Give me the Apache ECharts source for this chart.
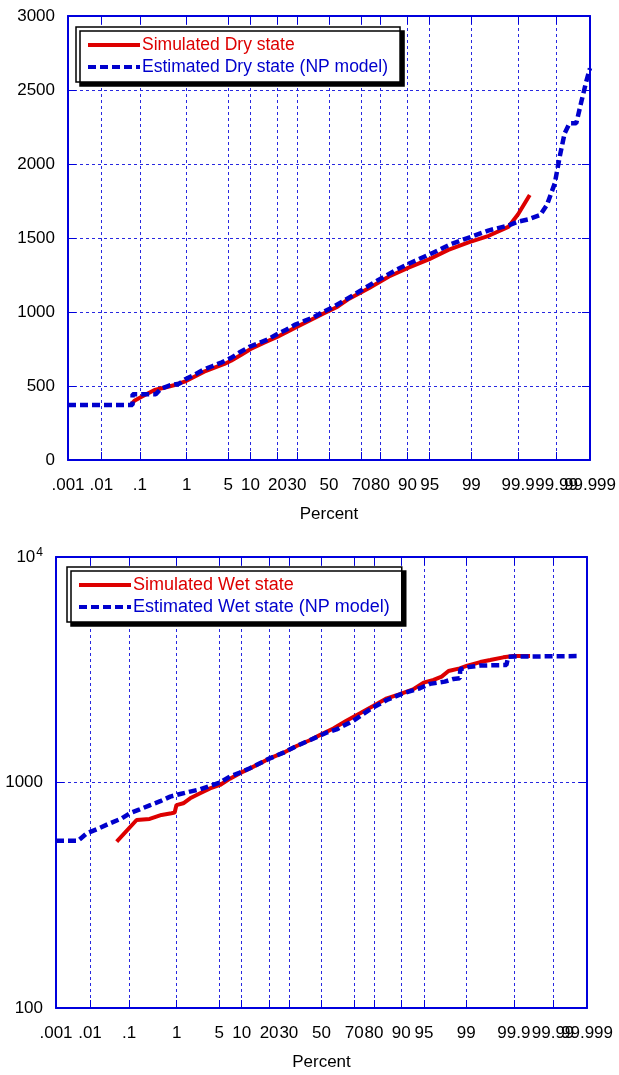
<!DOCTYPE html>
<html>
<head>
<meta charset="utf-8" />
<title>Dry / Wet state probability plots</title>
<script src="https://cdn.jsdelivr.net/npm/echarts@6/dist/echarts.min.js"></script>
<style>html,body{margin:0;padding:0;background:#fff;}</style>
</head>
<body>
<div id="main" style="width:619px;height:1075px;"></div>
<script type="text/javascript">
// probability axis: tick positions in percent and their labels
var tickPercents = [0.001, 0.01, 0.1, 1, 5, 10, 20, 30, 50, 70, 80, 90, 95, 99, 99.9, 99.99, 99.999];
var tickLabels = ['.001', '.01', '.1', '1', '5', '10', '20', '30', '50', '70', '80', '90', '95', '99', '99.9', '99.99', '99.999'];

// x of every point is the normal score (probit) of the plotting position
var drySimZ = [-3.23, -3.18, -3.01, -2.85, -2.63, -2.52, -2.36, -2.20, -2.04, -1.87, -1.71, -1.60, -1.44, -1.28, -1.06, -0.84, -0.68, -0.52, -0.30, -0.08, 0.14, 0.33, 0.65, 0.98, 1.30, 1.63, 1.95, 2.28, 2.61, 2.93, 3.09, 3.28];
var drySimVal = [376, 401, 439, 473, 495, 507, 529, 563, 597, 624, 649, 671, 709, 750, 793, 833, 867, 901, 946, 991, 1036, 1090, 1160, 1240, 1300, 1355, 1420, 1470, 1515, 1575, 1660, 1790];

var dryEstZ = [-4.265, -3.21, -3.21, -2.83, -2.75, -2.60, -2.45, -2.35, -2.20, -2.05, -1.90, -1.75, -1.60, -1.45, -1.30, -1.15, -1.00, -0.85, -0.70, -0.55, -0.40, -0.25, -0.10, 0.05, 0.24, 0.50, 0.80, 1.10, 1.40, 1.70, 2.00, 2.30, 2.60, 2.93, 3.09, 3.26, 3.45, 3.56, 3.69, 3.77, 3.85, 3.93, 4.04, 4.13, 4.21, 4.265];
var dryEstVal = [372, 372, 445, 445, 480, 505, 515, 545, 575, 610, 635, 660, 690, 730, 765, 790, 815, 850, 880, 915, 940, 965, 1000, 1030, 1075, 1140, 1215, 1285, 1345, 1400, 1460, 1505, 1550, 1585, 1610, 1626, 1655, 1723, 1870, 2050, 2207, 2275, 2275, 2432, 2567, 2647];

var wetSimZ = [-3.29, -2.97, -2.76, -2.57, -2.41, -2.36, -2.33, -2.22, -2.11, -1.95, -1.79, -1.63, -1.47, -1.31, -1.15, -0.99, -0.83, -0.61, -0.40, -0.18, -0.02, 0.19, 0.40, 0.62, 0.83, 1.05, 1.26, 1.47, 1.64, 1.80, 1.93, 2.04, 2.22, 2.33, 2.55, 2.71, 2.92, 3.08, 3.35];
var wetSimVal = [547, 682, 689, 718, 730, 735, 794, 809, 851, 896, 942, 975, 1040, 1100, 1155, 1215, 1280, 1356, 1452, 1543, 1626, 1737, 1879, 2026, 2183, 2362, 2467, 2589, 2771, 2849, 2947, 3120, 3208, 3287, 3420, 3491, 3589, 3637, 3637];

var wetEstZ = [-4.265, -3.91, -3.77, -3.59, -3.40, -3.21, -3.08, -2.92, -2.76, -2.59, -2.43, -2.27, -2.11, -1.95, -1.79, -1.63, -1.47, -1.31, -1.15, -0.99, -0.83, -0.61, -0.40, -0.18, 0.08, 0.24, 0.51, 0.78, 1.05, 1.31, 1.58, 1.74, 1.98, 2.12, 2.22, 2.23, 2.36, 2.55, 2.97, 3.00, 4.13];
var wetEstVal = [552, 552, 595, 624, 659, 693, 730, 760, 792, 826, 866, 889, 911, 933, 966, 1000, 1063, 1107, 1157, 1217, 1280, 1356, 1452, 1543, 1663, 1720, 1879, 2112, 2322, 2487, 2618, 2737, 2801, 2880, 2899, 3180, 3250, 3300, 3320, 3613, 3637];

// inverse of the standard normal cdf (Acklam)
function probit(p) {
  var a = [-3.969683028665376e+01, 2.209460984245205e+02, -2.759285104469687e+02, 1.383577518672690e+02, -3.066479806614716e+01, 2.506628277459239e+00];
  var b = [-5.447609879822406e+01, 1.615858368580409e+02, -1.556989798598866e+02, 6.680131188771972e+01, -1.328068155288572e+01];
  var c = [-7.784894002430293e-03, -3.223964580411365e-01, -2.400758277161838e+00, -2.549732539343734e+00, 4.374664141464968e+00, 2.938163982698783e+00];
  var d = [7.784695709041462e-03, 3.224671290700398e-01, 2.445134137142996e+00, 3.754408661907416e+00];
  var q, r;
  if (p < 0.02425) {
    q = Math.sqrt(-2 * Math.log(p));
    return (((((c[0]*q+c[1])*q+c[2])*q+c[3])*q+c[4])*q+c[5]) / ((((d[0]*q+d[1])*q+d[2])*q+d[3])*q+1);
  }
  if (p > 1 - 0.02425) {
    q = Math.sqrt(-2 * Math.log(1 - p));
    return -(((((c[0]*q+c[1])*q+c[2])*q+c[3])*q+c[4])*q+c[5]) / ((((d[0]*q+d[1])*q+d[2])*q+d[3])*q+1);
  }
  q = p - 0.5; r = q * q;
  return (((((a[0]*r+a[1])*r+a[2])*r+a[3])*r+a[4])*r+a[5])*q / (((((b[0]*r+b[1])*r+b[2])*r+b[3])*r+b[4])*r+1);
}

var tickZ = tickPercents.map(function (p) { return probit(p / 100); });
var zMin = tickZ[0], zMax = tickZ[tickZ.length - 1];
// last label overlaps its neighbour; it is drawn by a second bottom axis so both stay visible
var labelZ = tickZ.slice(0, tickZ.length - 1);
var lastLabelZ = [zMax];

function pairs(xs, ys) {
  return xs.map(function (x, i) { return [x, ys[i]]; });
}
function tickLabel(v) {
  for (var i = 0; i < tickZ.length; i++) {
    if (Math.abs(tickZ[i] - v) < 1e-6) return tickLabels[i];
  }
  return '';
}

var FONT = '"Liberation Sans", Arial, sans-serif';
var RED = '#dd0000';
var BLUE = '#0000cc';
var GRIDLINE = { color: '#2828e0', width: 1, type: [3, 3] };
var AXISLINE = { color: '#0000dd', width: 2 };
var TICK = { show: true, inside: true, length: 8, lineStyle: { color: '#0000dd', width: 1 } };

function probAxis(grid, top) {
  return {
    gridIndex: grid, type: 'value', min: zMin, max: zMax,
    position: top ? 'top' : 'bottom',
    axisLine: { show: true, onZero: false, lineStyle: AXISLINE },
    axisTick: { show: true, inside: true, length: 8, customValues: tickZ, lineStyle: { color: '#0000dd', width: 1 } },
    axisLabel: top ? { show: false } : {
      customValues: labelZ, formatter: tickLabel, margin: 17,
      color: '#000', fontSize: 17, fontFamily: FONT
    },
    splitLine: { show: !top, lineStyle: GRIDLINE },
    name: top ? '' : 'Percent', nameLocation: 'middle', nameGap: 46,
    nameTextStyle: { color: '#000', fontSize: 17, fontFamily: FONT }
  };
}
function lastLabelAxis(grid) {
  return {
    gridIndex: grid, type: 'value', min: zMin, max: zMax, position: 'bottom', offset: 0,
    axisLine: { show: false, onZero: false }, axisTick: { show: false }, splitLine: { show: false },
    axisLabel: {
      customValues: lastLabelZ, formatter: tickLabel, margin: 17,
      showMinLabel: true, showMaxLabel: true,
      color: '#000', fontSize: 17, fontFamily: FONT
    }
  };
}

function legendBox(top, left, size, names) {
  return {
    orient: 'vertical', left: left, top: top,
    itemWidth: 52, itemHeight: 14, itemGap: 4,
    padding: [9, 12, 6, 10],
    backgroundColor: '#fff', borderColor: '#000', borderWidth: 1.5,
    shadowColor: '#000', shadowBlur: 0, shadowOffsetX: 4, shadowOffsetY: 4,
    itemStyle: { opacity: 0, borderWidth: 0 },
    textStyle: { fontSize: size, fontFamily: FONT, padding: [0, 0, 0, -3] },
    data: [
      { name: names[0], textStyle: { color: RED }, lineStyle: { color: RED, width: 4 } },
      { name: names[1], textStyle: { color: BLUE }, lineStyle: { color: BLUE, width: 4, type: [8, 4] } }
    ]
  };
}

var myChart = echarts.init(document.getElementById('main'));
myChart.setOption({
  animation: false,
  backgroundColor: '#fff',
  grid: [
    { left: 68, top: 16, width: 524, height: 444, show: false },
    { left: 56, top: 557, width: 531, height: 451, show: false }
  ],
  legend: [
    legendBox(27, 76, 17.5, ['Simulated Dry state', 'Estimated Dry state (NP model)']),
    legendBox(567, 67, 18, ['Simulated Wet state', 'Estimated Wet state (NP model)'])
  ],
  xAxis: [
    probAxis(0, false), probAxis(0, true), lastLabelAxis(0),
    probAxis(1, false), probAxis(1, true), lastLabelAxis(1)
  ],
  yAxis: [
    {
      gridIndex: 0, type: 'value', min: 0, max: 3000, interval: 500,
      axisLine: { show: true, onZero: false, lineStyle: AXISLINE },
      axisTick: TICK,
      axisLabel: { color: '#000', fontSize: 17, fontFamily: FONT, margin: 13,
        formatter: function (v) { return String(v); } },
      splitLine: { show: true, lineStyle: GRIDLINE }
    },
    {
      gridIndex: 0, type: 'value', min: 0, max: 3000, interval: 500, position: 'right',
      axisLine: { show: true, onZero: false, lineStyle: AXISLINE },
      axisTick: TICK,
      axisLabel: { show: false }, splitLine: { show: false }
    },
    {
      gridIndex: 1, type: 'log', logBase: 10, min: 100, max: 10000,
      axisLine: { show: true, onZero: false, lineStyle: AXISLINE },
      axisTick: TICK,
      minorTick: { show: false },
      axisLabel: {
        color: '#000', fontSize: 17, fontFamily: FONT, margin: 13,
        formatter: function (v) { return v >= 9999 ? '{b|10}{s|4}' : String(Math.round(v)); },
        rich: {
          b: { fontSize: 17, fontFamily: FONT, color: '#000' },
          s: { fontSize: 12, fontFamily: FONT, color: '#000', verticalAlign: 'bottom', padding: [0, 0, 9, 1] }
        }
      },
      splitLine: { show: true, lineStyle: GRIDLINE }
    },
    {
      gridIndex: 1, type: 'log', logBase: 10, min: 100, max: 10000, position: 'right',
      axisLine: { show: true, onZero: false, lineStyle: AXISLINE },
      axisTick: TICK,
      axisLabel: { show: false }, splitLine: { show: false }
    }
  ],
  series: [
    {
      name: 'Simulated Dry state', type: 'line', xAxisIndex: 0, yAxisIndex: 0,
      showSymbol: false, symbol: 'none', color: RED,
      lineStyle: { color: RED, width: 4 },
      data: pairs(drySimZ, drySimVal)
    },
    {
      name: 'Estimated Dry state (NP model)', type: 'line', xAxisIndex: 0, yAxisIndex: 0,
      showSymbol: false, symbol: 'none', color: BLUE,
      lineStyle: { color: BLUE, width: 4.5, type: [8, 4] },
      data: pairs(dryEstZ, dryEstVal)
    },
    {
      name: 'Simulated Wet state', type: 'line', xAxisIndex: 3, yAxisIndex: 2,
      showSymbol: false, symbol: 'none', color: RED,
      lineStyle: { color: RED, width: 4 },
      data: pairs(wetSimZ, wetSimVal)
    },
    {
      name: 'Estimated Wet state (NP model)', type: 'line', xAxisIndex: 3, yAxisIndex: 2,
      showSymbol: false, symbol: 'none', color: BLUE,
      lineStyle: { color: BLUE, width: 4.5, type: [8, 4] },
      data: pairs(wetEstZ, wetEstVal)
    }
  ]
});
</script>
</body>
</html>
